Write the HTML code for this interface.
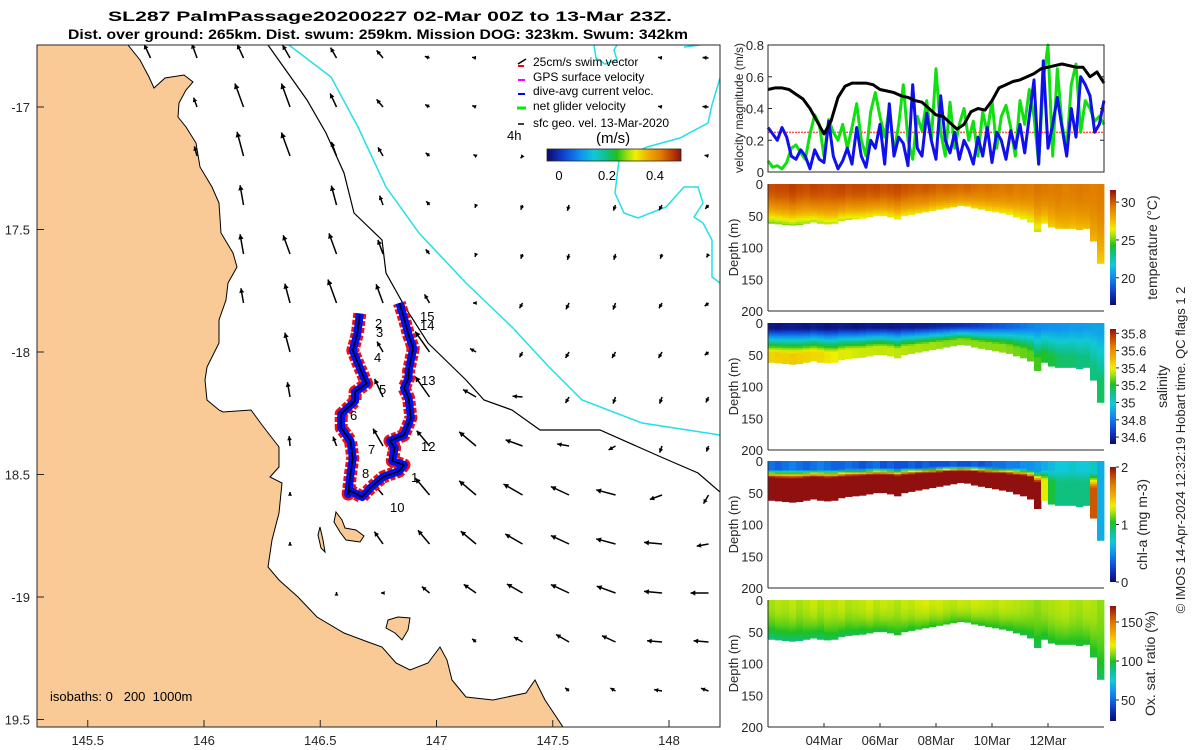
<!DOCTYPE html>
<html><head><meta charset="utf-8"><style>
html,body{margin:0;padding:0;background:#fff;}
svg{display:block;font-family:"Liberation Sans",sans-serif;}
</style></head><body>
<svg id="root" width="1200" height="750" viewBox="0 0 1200 750" xmlns="http://www.w3.org/2000/svg">
<defs>
<linearGradient id="jetH" x1="0" x2="1" y1="0" y2="0">
<stop offset="0" stop-color="#0a0a6e"/><stop offset="0.12" stop-color="#1040d0"/><stop offset="0.25" stop-color="#1090f0"/><stop offset="0.35" stop-color="#10c8d8"/><stop offset="0.45" stop-color="#10c080"/><stop offset="0.52" stop-color="#20c020"/><stop offset="0.6" stop-color="#a0e010"/><stop offset="0.66" stop-color="#f0f000"/><stop offset="0.75" stop-color="#f0b000"/><stop offset="0.85" stop-color="#e07c00"/><stop offset="0.93" stop-color="#c04000"/><stop offset="1" stop-color="#901010"/>
</linearGradient>
<linearGradient id="jetV" x1="0" x2="0" y1="1" y2="0">
<stop offset="0" stop-color="#0a0a6e"/><stop offset="0.12" stop-color="#1040d0"/><stop offset="0.25" stop-color="#1090f0"/><stop offset="0.35" stop-color="#10c8d8"/><stop offset="0.45" stop-color="#10c080"/><stop offset="0.52" stop-color="#20c020"/><stop offset="0.6" stop-color="#a0e010"/><stop offset="0.66" stop-color="#f0f000"/><stop offset="0.75" stop-color="#f0b000"/><stop offset="0.85" stop-color="#e07c00"/><stop offset="0.93" stop-color="#c04000"/><stop offset="1" stop-color="#901010"/>
</linearGradient>
<clipPath id="mapClip"><rect x="37" y="45" width="683" height="682"/></clipPath>
</defs>

<text x="108" y="21" textLength="564" lengthAdjust="spacingAndGlyphs" font-size="14" font-weight="bold" fill="#000">SL287 PalmPassage20200227 02-Mar 00Z to 13-Mar 23Z.</text>
<text x="68" y="39" textLength="620" lengthAdjust="spacingAndGlyphs" font-size="14" font-weight="bold" fill="#000">Dist. over ground: 265km. Dist. swum: 259km. Mission DOG: 323km. Swum: 342km</text>

<g id="map" clip-path="url(#mapClip)">
<rect x="37" y="45" width="683" height="682" fill="#fff"/>
<path fill="#F9C996" stroke="#000" stroke-width="1" d="M37,45 L128,45 L140,60 L149,77 L154,88 L165,78 L184,75 L193,82 L186,90 L179,103 L178,117 L186,127 L196,143 L200,167 L212,187 L219,203 L221,233 L233,253 L237,267 L228,283 L226,300 L219,320 L219,343 L207,367 L205,380 L207,400 L219,410 L223,412 L251,410 L262,425 L279,447 L279,467 L270,477 L282,483 L279,513 L272,540 L268,567 L279,580 L298,597 L317,617 L344,633 L368,642 L382,647 L396,663 L410,670 L428,663 L440,647 L447,660 L452,680 L466,697 L493,700 L526,693 L535,680 L545,700 L563,727 L37,727 Z"/>
<path fill="#F9C996" stroke="#000" d="M336,512 L342,520 L345,528 L356,530 L364,536 L360,542 L346,540 L340,532 L334,522 Z M320,527 L323,540 L325,552 L321,548 L318,535 Z"/>
<path fill="#F9C996" stroke="#000" d="M388,620 L398,617 L410,618 L408,630 L402,640 L395,633 L386,628 Z"/>
<path fill="none" stroke="#000" stroke-width="1.2" d="M268,45 L307,100 L326,133 L344,173 L354,213 L382,240 L386,273 L405,307 L428,343 L466,380 L484,400 L512,410 L540,430 L600,430 L661,457 L698,473 L720,492"/>
<path fill="none" stroke="#22e0e8" stroke-width="1.5" d="M289,45 L331,77 L358,127 L386,187 L419,233 L466,283 L512,327 L549,367 L582,400 L642,423 L720,435"/>
<path fill="none" stroke="#22e0e8" stroke-width="1.5" d="M720,78 L712,105 L708,123 L680,138 L647,147 L619,160 L615,193 L624,213 L638,218 L666,207 L684,187 L698,187 L703,203 L694,217 L703,223 L712,240 L712,277 L720,283"/>
<path fill="none" stroke="#22e0e8" stroke-width="1.5" d="M594,45 L596,58 L605,64 L617,60 L614,50 L617,45 M684,47 L700,45"/>
<g id="arrows"></g>
<g id="track">
<path id="trk-red" fill="none" stroke="#f01010" stroke-width="13" stroke-linejoin="round" stroke-dasharray="5 2"/>
<path id="trk-blue" fill="none" stroke="#0010f0" stroke-width="8" stroke-linejoin="round"/>
<path id="trk-black" fill="none" stroke="#000" stroke-width="1.6" stroke-linejoin="round"/>
</g>
<g font-size="13" fill="#000">
<text x="375" y="328">2</text><text x="376" y="337">3</text><text x="374" y="362">4</text><text x="379" y="394">5</text><text x="350" y="420">6</text><text x="368" y="454">7</text><text x="362" y="478">8</text><text x="390" y="512">10</text><text x="411" y="482">1</text><text x="421" y="451">12</text><text x="421" y="385">13</text><text x="420" y="330">14</text><text x="420" y="321">15</text>
</g>
<text x="50" y="701" font-size="13" fill="#000" xml:space="preserve" style="white-space:pre">isobaths: 0   200  1000m</text>
</g>
<rect x="37" y="45" width="683" height="682" fill="none" stroke="#262626" stroke-width="1"/>

<g id="map-legend" font-size="12" fill="#000">
<g><line x1="518" y1="64" x2="526" y2="59" stroke="#000" stroke-width="1.5"/><line x1="518" y1="66" x2="524" y2="66" stroke="#f00" stroke-width="2"/><text x="533" y="66">25cm/s swim vector</text></g>
<g><line x1="518" y1="80" x2="525" y2="80" stroke="#f0f" stroke-width="2"/><text x="533" y="81">GPS surface velocity</text></g>
<g><line x1="518" y1="94" x2="525" y2="94" stroke="#00f" stroke-width="2"/><text x="533" y="95">dive-avg current veloc.</text></g>
<g><line x1="517" y1="108" x2="526" y2="108" stroke="#0e0" stroke-width="3"/><text x="533" y="110">net glider velocity</text></g>
<g><line x1="518" y1="124" x2="524" y2="124" stroke="#000" stroke-width="1.5"/><text x="533" y="127">sfc geo. vel. 13-Mar-2020</text></g>
<text x="507" y="140" font-size="13">4h</text>
<text x="596" y="143" font-size="15">(m/s)</text>
<rect x="547" y="149" width="134" height="12" fill="url(#jetH)" stroke="#262626" stroke-width="0.8"/>
<text x="559" y="180" font-size="13" text-anchor="middle">0</text><text x="607" y="180" font-size="13" text-anchor="middle">0.2</text><text x="655" y="180" font-size="13" text-anchor="middle">0.4</text>
</g>

<g id="map-axes" font-size="13" fill="#262626"></g>

<g id="vel"></g>
<g id="sections"></g>

<text transform="translate(1185,450) rotate(-90)" text-anchor="middle" font-size="13" fill="#262626">© IMOS 14-Apr-2024 12:32:19 Hobart time. QC flags 1  2</text>
</svg>
<script>
// ---------- DATA ----------
const arrowLons = [145.77,145.97,146.17,146.37,146.57,146.77,146.97,147.17,147.37,147.57,147.77,147.97,148.17];
const arrowLats = [-16.8,-17.0,-17.2,-17.4,-17.6,-17.8,-18.0,-18.2,-18.4,-18.6,-18.8,-19.0,-19.2,-19.4];
const arrowSpeed = [
[.15,.15,.15,.15,.12,.1,.05,.04,null,null,null,.04,.06],
[null,.1,.25,.25,.15,.1,.05,.04,null,null,null,.04,.06],
[null,.1,.25,.25,.15,.1,.05,.03,.03,null,null,null,.04],
[null,null,.2,null,.2,.1,.05,.03,.05,.06,.06,.06,.05],
[null,null,.2,.2,.22,.15,.06,.03,.05,.06,.06,.05,.04],
[null,null,.15,.2,.25,.2,.1,.03,.06,.07,.07,.06,.05],
[null,null,null,.2,null,.12,.25,.07,.06,.07,.07,.07,.05],
[null,null,null,.15,null,.2,.25,.15,.1,.07,.07,.07,.06],
[null,null,null,.1,.1,.2,.2,.22,.18,.12,.08,.07,.06],
[null,null,null,.03,null,.15,.22,.22,.22,.2,.2,.13,.1],
[null,null,null,.02,null,.15,.18,.2,.2,.2,.2,.18,.12],
[null,null,null,null,.01,.02,.1,.15,.18,.2,.2,.18,.18],
[null,null,null,null,null,null,null,.05,.1,.15,.15,.15,.15],
[null,null,null,null,null,null,null,null,null,.05,.06,.08,.08]];
const arrowDir = [
[335,340,335,330,330,320,290,280,0,0,0,280,275],
[0,340,340,340,335,320,300,290,0,0,0,280,275],
[0,345,345,340,340,330,310,300,220,0,0,0,280],
[0,0,350,0,345,340,320,200,200,195,200,210,220],
[0,0,350,340,340,340,320,200,200,195,195,200,210],
[0,0,350,345,340,340,330,270,210,205,200,210,230],
[0,0,0,345,0,330,325,300,210,210,210,210,230],
[0,0,0,350,0,335,325,300,275,210,200,200,205],
[0,0,0,355,340,330,320,310,290,280,240,200,200],
[0,0,0,0,0,320,320,310,300,295,285,250,210],
[0,0,0,0,0,325,320,310,300,295,285,275,260],
[0,0,0,0,0,270,310,305,300,295,290,275,270],
[0,0,0,0,0,0,0,310,300,300,295,275,275],
[0,0,0,0,0,0,0,0,0,310,300,280,290]];
const lonTicks = [145.5,146,146.5,147,147.5,148];
const latTicks = [-17,-17.5,-18,-18.5,-19,-19.5];
const latTickLabels = ["-17","17.5","-18","18.5","-19","19.5"];
const trackLon = [146.67,146.66,146.64,146.67,146.70,146.65,146.65,146.59,146.59,146.63,146.64,146.63,146.62,146.63,146.68,146.72,146.77,146.84,146.86,146.81,146.82,146.80,146.86,146.89,146.88,146.86,146.88,146.88,146.90,146.88,146.86,146.84];
const trackLat = [-17.843,-17.925,-17.994,-18.064,-18.129,-18.163,-18.200,-18.253,-18.310,-18.363,-18.433,-18.498,-18.580,-18.567,-18.592,-18.551,-18.510,-18.486,-18.461,-18.445,-18.392,-18.363,-18.339,-18.269,-18.188,-18.147,-18.106,-18.078,-17.984,-17.931,-17.861,-17.800];
const blackVel = [.52,.53,.53,.52,.49,.46,.40,.32,.24,.32,.47,.54,.56,.56,.56,.55,.52,.51,.50,.48,.47,.45,.44,.40,.36,.35,.31,.27,.30,.38,.40,.39,.45,.53,.55,.57,.58,.60,.62,.65,.66,.67,.68,.67,.66,.66,.60,.63,.56];
const greenVel = [.07,.03,.04,.02,.06,.15,.17,.12,.08,.24,.36,.30,.10,.33,.25,.20,.30,.15,.28,.43,.20,.10,.38,.50,.35,.22,.40,.12,.30,.55,.20,.08,.35,.26,.45,.20,.65,.25,.10,.44,.15,.30,.40,.20,.32,.10,.38,.25,.45,.15,.35,.42,.28,.10,.45,.30,.52,.35,.05,.58,.80,.10,.65,.30,.15,.55,.68,.25,.45,.40,.32,.35,.30];
const blueVel = [.28,.24,.20,.28,.22,.10,.08,.14,.10,.02,.14,.08,.06,.32,.10,.02,.07,.15,.05,.28,.10,.03,.20,.15,.30,.05,.43,.10,.22,.18,.04,.55,.15,.10,.37,.20,.08,.48,.20,.12,.25,.08,.20,.14,.05,.22,.10,.28,.06,.25,.20,.08,.26,.15,.30,.12,.35,.58,.05,.70,.15,.30,.47,.28,.10,.40,.22,.60,.55,.48,.25,.30,.45];
const swimRef = 0.25;
const velTicks = [0,0.2,0.4,0.6,0.8];
const dateTicks = [2,4,6,8,10];
const dateLabels = ["04Mar","06Mar","08Mar","10Mar","12Mar"];
const depthTicks = [0,50,100,150,200];
const maxDepth = [62,63,64,65,64,62,60,62,63,62,58,56,55,54,52,50,50,52,55,50,48,46,44,42,40,38,36,34,35,38,40,42,44,46,48,52,55,60,75,62,68,70,70,70,72,70,90,125];
const tempSurf = [30.3,30.4,30.4,30.6,30.4,30.3,30.5,30.4,30.3,30.4,30.5,30.3,30.4,30.4,30.3,30.4,30.2,30.3,30.4,30.2,30.1,30.0,30.1,30.0,29.8,29.9,29.8,29.7,29.8,29.6,29.5,29.6,29.5,29.4,29.5,29.3,29.4,29.3,29.5,29.4,29.3,29.4,29.2,29.3,29.4,29.3,29.2,29.3];
const tempDeep = [24.8,24.9,25.0,25.1,25.0,25.2,25.3,25.4,25.5,25.6,25.5,25.6,25.8,25.9,26.0,26.1,26.2,26.1,26.0,26.2,26.3,26.4,26.5,26.4,26.5,26.6,26.7,26.8,26.7,26.6,26.5,26.4,26.4,26.3,26.2,26.2,26.1,25.9,25.6,26.4,26.9,27.2,27.4,27.2,27.3,27.5,27.6,27.0];
const salSurf = [34.56,34.55,34.56,34.57,34.56,34.55,34.57,34.56,34.55,34.56,34.57,34.56,34.55,34.56,34.57,34.56,34.57,34.56,34.57,34.58,34.57,34.58,34.58,34.59,34.60,34.61,34.62,34.63,34.64,34.66,34.68,34.70,34.72,34.74,34.76,34.78,34.80,34.82,34.84,34.85,34.86,34.86,34.87,34.88,34.88,34.89,34.90,34.90];
const salDeep = [35.45,35.46,35.46,35.47,35.46,35.45,35.44,35.44,35.42,35.40,35.38,35.38,35.37,35.36,35.36,35.35,35.35,35.36,35.35,35.34,35.33,35.33,35.32,35.32,35.31,35.30,35.30,35.30,35.30,35.30,35.30,35.30,35.30,35.30,35.29,35.28,35.27,35.26,35.24,35.20,35.18,35.15,35.14,35.14,35.12,35.12,35.12,35.15];
const chlSurf = [0.4,0.35,0.4,0.45,0.4,0.35,0.4,0.45,0.4,0.35,0.35,0.4,0.35,0.3,0.35,0.4,0.3,0.35,0.3,0.3,0.35,0.3,0.35,0.3,0.3,0.3,0.35,0.3,0.3,0.35,0.3,0.35,0.4,0.4,0.45,0.45,0.5,0.5,0.55,0.6,0.65,0.7,0.7,0.75,0.7,0.7,0.75,0.6];
const chlDeep = [2.5,2.5,2.5,2.5,2.5,2.5,2.5,2.5,2.5,2.5,2.5,2.5,2.5,2.5,2.5,2.5,2.5,2.5,2.5,2.5,2.5,2.5,2.5,2.5,2.5,2.5,2.5,2.5,2.5,2.5,2.5,2.5,2.5,2.5,2.5,2.5,2.5,2.4,2.2,1.3,1.0,0.9,0.9,0.9,0.9,0.9,1.8,0.6];
const oxySurf = [112,114,113,115,112,114,116,113,115,114,116,113,114,115,117,114,116,115,113,116,115,117,118,116,117,115,114,116,115,117,116,115,114,116,115,114,113,112,110,112,113,114,115,113,112,114,113,110];
const oxyDeep = [88,89,90,89,90,92,91,90,92,93,92,93,94,93,95,96,95,96,96,97,96,98,98,97,99,99,98,99,99,98,97,98,97,97,96,96,95,94,93,95,96,97,97,97,96,97,95,92];
const sections = [
 {name:"temperature", surf:tempSurf, deep:tempDeep, vmin:16.4, vmax:31.6, shape:"smooth", ticks:[20,25,30], tickLabels:["20","25","30"], label:"temperature (°C)"},
 {name:"salinity", surf:salSurf, deep:salDeep, vmin:34.52, vmax:35.85, shape:"sal", ticks:[34.6,34.8,35,35.2,35.4,35.6,35.8], tickLabels:["34.6","34.8","35","35.2","35.4","35.6","35.8"], label:"salinity"},
 {name:"chl-a", surf:chlSurf, deep:chlDeep, vmin:0, vmax:2, shape:"step", ticks:[0,1,2], tickLabels:["0","1","2"], label:"chl-a (mg m-3)"},
 {name:"oxygen", surf:oxySurf, deep:oxyDeep, vmin:23, vmax:170.5, shape:"smooth", ticks:[50,100,150], tickLabels:["50","100","150"], label:"Ox. sat. ratio (%)"}
];

// ---------- helpers ----------
const NS="http://www.w3.org/2000/svg";
function mk(tag, attrs, parent){const e=document.createElementNS(NS,tag);for(const k in attrs)e.setAttribute(k,attrs[k]);if(parent)parent.appendChild(e);return e;}
const CMAP=[[0,[10,10,110]],[0.12,[16,64,208]],[0.25,[16,144,240]],[0.35,[16,200,216]],[0.45,[16,192,128]],[0.52,[32,192,32]],[0.6,[160,224,16]],[0.66,[240,240,0]],[0.75,[240,176,0]],[0.85,[224,124,0]],[0.93,[192,64,0]],[1,[144,16,16]]];
function jet(t){t=Math.max(0,Math.min(1,t));
 for(let i=1;i<CMAP.length;i++){if(t<=CMAP[i][0]){const a=CMAP[i-1],b=CMAP[i];const f=(t-a[0])/(b[0]-a[0]);
  return "rgb("+a[1].map((v,k)=>Math.round(v+(b[1][k]-v)*f)).join(",")+")";}}
 return "rgb(144,16,16)";}
const lonX = lon => 204 + (lon-146)*232.5;
const latY = lat => 107 + (-17-lat)*245;

// ---------- map axes ----------
const ma=document.getElementById('map-axes');
lonTicks.forEach(l=>{const x=lonX(l);
 const tk=mk('line',{x1:x,y1:727,x2:x,y2:720,stroke:'#262626'},ma);
 
 
 const t=mk('text',{x:x,y:745,'text-anchor':'middle'},ma);t.textContent=String(l);
 
 });
latTicks.forEach((l,i)=>{const y=latY(l);
 const tk=mk('line',{x1:37,y1:y,x2:44,y2:y,stroke:'#262626'},ma);
 
 
 const t=mk('text',{x:30,y:y+5,'text-anchor':'end'},ma);t.textContent=latTickLabels[i];
 
 });

// ---------- arrows ----------
const ag=document.getElementById('arrows');
const SCALE=100;
arrowLats.forEach((lat,r)=>arrowLons.forEach((lon,c)=>{
 const s=arrowSpeed[r][c]; if(s===null) return;
 const d=arrowDir[r][c]*Math.PI/180;
 const x0=lonX(lon), y0=latY(lat)-(r>=7?4:0);
 const x1=x0+Math.sin(d)*s*SCALE, y1=y0-Math.cos(d)*s*SCALE;
 const g=mk('g',{},ag);
 
 
 mk('line',{x1:x0,y1:y0,x2:x1,y2:y1,stroke:'#000','stroke-width':1.5},g);
 const hl=4+s*8, a1=d+Math.PI-0.5, a2=d+Math.PI+0.5;
 mk('path',{d:`M${x1},${y1} L${x1+Math.sin(a1)*hl},${y1-Math.cos(a1)*hl} L${x1+Math.sin(a2)*hl},${y1-Math.cos(a2)*hl} Z`,fill:'#000'},g);
}));

// ---------- track ----------
const td=trackLon.map((l,i)=>(i?'L':'M')+lonX(l).toFixed(1)+','+latY(trackLat[i]).toFixed(1)).join(' ');
['trk-red','trk-blue','trk-black'].forEach(id=>document.getElementById(id).setAttribute('d',td));

// ---------- velocity panel ----------
const VX0=768,VX1=1104,VY0=45,VY1=172,DAYS=12;
const dX = d => VX0 + d/DAYS*(VX1-VX0);
const vY = v => VY1 - v/0.8*(VY1-VY0);
const vg=document.getElementById('vel');
mk('rect',{x:VX0,y:VY0,width:VX1-VX0,height:VY1-VY0,fill:'#fff'},vg);
const sref=mk('line',{x1:VX0,y1:vY(swimRef),x2:VX1,y2:vY(swimRef),stroke:'#ff5050','stroke-width':1.5,'stroke-dasharray':'2 1'},vg);


function series(arr,color,w,name){
 const n=arr.length-1;
 const p=mk('polyline',{points:arr.map((v,i)=>dX(i/n*DAYS).toFixed(1)+','+vY(Math.min(v,0.8)).toFixed(1)).join(' '),fill:'none',stroke:color,'stroke-width':w,'stroke-linejoin':'round'},vg);
 
 }
series(greenVel,'#10e010',3,'net-glider-velocity-line');
series(blueVel,'#1010ee',3,'dive-avg-current-line');
series(blackVel,'#000',3,'surface-geo-velocity-line');
mk('rect',{x:VX0,y:VY0,width:VX1-VX0,height:VY1-VY0,fill:'none',stroke:'#262626'},vg);
velTicks.forEach(v=>{const y=vY(v);
 mk('line',{x1:VX0,y1:y,x2:VX0+4,y2:y,stroke:'#262626'},vg);
 mk('line',{x1:VX1,y1:y,x2:VX1-4,y2:y,stroke:'#262626'},vg);
 const t=mk('text',{x:VX0-4,y:y+5,'text-anchor':'end','font-size':13,fill:'#262626'},vg);t.textContent=String(v);
 
 });
const vl=mk('text',{transform:'translate(743,108) rotate(-90)','text-anchor':'middle','font-size':12,fill:'#262626'},vg);
vl.textContent='velocity magnitude (m/s)';



// ---------- sections ----------
const sg=document.getElementById('sections');
const panelTops=[184,323,461,600], PH=127;
const NC=maxDepth.length, CW=(VX1-VX0)/NC;
sections.forEach((s,pi)=>{
 const top=panelTops[pi];
 const g=mk('g',{},sg);
 
 
 const zY = z => top + z/200*PH;
 for(let c=0;c<NC;c++){
  const md=maxDepth[c];
  for(let z=0;z<md;z+=3){
   const f=z/md; let w;
   if(s.shape==='smooth') w=f*f;
   else if(s.shape==='sal') w=Math.min(1,Math.max(0,(f-0.12)/0.6));
   else w=Math.min(1,Math.max(0,(f-0.2)/0.25));
   const v=s.surf[c]+(s.deep[c]-s.surf[c])*w;
   const rct=mk('rect',{x:(VX0+c*CW).toFixed(2),y:zY(z).toFixed(2),width:(CW+0.4).toFixed(2),height:(Math.min(3,md-z)/200*PH+0.4).toFixed(2),fill:jet((v-s.vmin)/(s.vmax-s.vmin))},g);
   
   
  }
 }
 mk('line',{x1:VX0,y1:top,x2:VX0,y2:top+PH,stroke:'#262626'},g);
 mk('line',{x1:VX0,y1:top+PH,x2:VX1,y2:top+PH,stroke:'#262626'},g);
 depthTicks.forEach(d=>{const t=mk('text',{x:VX0-5,y:zY(d)+5,'text-anchor':'end','font-size':13,fill:'#262626'},g);t.textContent=String(d);
  
  });
 const dl=mk('text',{transform:`translate(738,${top+PH/2}) rotate(-90)`,'text-anchor':'middle','font-size':13,fill:'#262626'},g);
 dl.textContent='Depth (m)';
 
 
 const cb0=top+6, cb1=top+PH-6;
 const cb=mk('rect',{x:1110,y:cb0,width:6,height:cb1-cb0,fill:'url(#jetV)'},g);
 
 
 s.ticks.forEach((tv,i)=>{const y=cb1-(tv-s.vmin)/(s.vmax-s.vmin)*(cb1-cb0);
  mk('line',{x1:1116,y1:y,x2:1119,y2:y,stroke:'#262626'},g);
  const t=mk('text',{x:1121,y:y+5,'font-size':13,fill:'#262626'},g);t.textContent=s.tickLabels[i];
  
  });
 const lx = pi===1?1167:(pi===2?1147:(pi===3?1155:1157));
 const cl=mk('text',{transform:`translate(${lx},${top+PH/2}) rotate(-90)`,'text-anchor':'middle','font-size':14,fill:'#262626'},g);
 cl.textContent=s.label;
 
 
});
dateTicks.forEach((d,i)=>{const x=dX(d);
 mk('line',{x1:x,y1:727,x2:x,y2:723,stroke:'#262626'},sg);
 const t=mk('text',{x:x,y:745,'text-anchor':'middle','font-size':13,fill:'#262626'},sg);t.textContent=dateLabels[i];
 
 });
</script>
</body></html>
